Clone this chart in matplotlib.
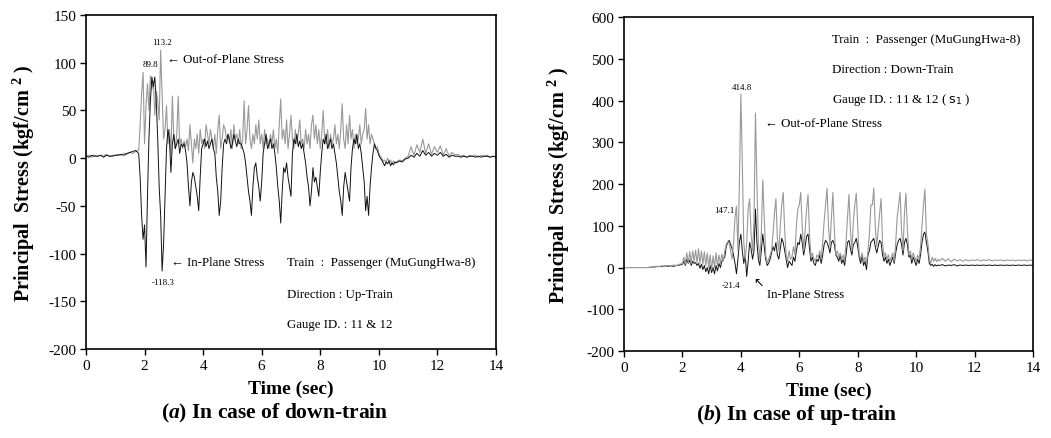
import numpy as np
import matplotlib
matplotlib.use("Agg")
import matplotlib.pyplot as plt

plt.rcParams['font.family'] = ['Liberation Serif', 'DejaVu Sans']
plt.rcParams['mathtext.fontset'] = 'custom'
plt.rcParams['mathtext.rm'] = 'Liberation Serif:bold'
plt.rcParams['mathtext.it'] = 'Liberation Serif:italic:bold'
plt.rcParams['mathtext.sf'] = 'DejaVu Sans'
plt.rcParams['axes.unicode_minus'] = False

# ---------------- (a) down-train record ----------------
time_a = np.concatenate([np.linspace(0.0, 1.7, 18),
                         np.linspace(1.8, 10.55, 176),
                         np.linspace(10.6, 14.0, 35)])

out_plane_a = [
    2, 3, 1, 3, 2, 3, 2, 4, 2, 3, 3, 4, 3, 5, 4, 6, 5, 7,
    8, 35, 68, 89.8, 15, 55, 78, 50, 86, 72,
    80, 45, 70, 60, 40, 113.2, 65, 20, 30, 55,
    15, 30, 5, 65, 20, 10, 25, 65, 15, 20,
    10, 18, 12, 20, 8, 35, 15, -5, 20, 10,
    25, 5, 30, 15, 20, 10, 35, 25, 15, 30,
    20, 10, 25, 5, 30, 45, 10, 20, 35, 30,
    20, 25, 15, 30, 10, 35, 20, 25, 15, 30,
    10, 20, 60, 15, 30, 55, 20, 10, 25, 15,
    35, 20, 40, 15, 25, 10, 30, 15, 20, 10,
    25, 15, 30, 10, 20, 5, 35, 62, 20, 30,
    15, 40, 10, 25, 45, 20, 10, 30, 15, 25,
    40, 15, 20, 10, 30, 15, 25, 10, 35, 45,
    20, 35, 15, 30, 10, 25, 50, 20, 15, 30,
    10, 25, 15, 20, 35, 15, 25, 10, 30, 57,
    20, 10, 35, 15, 45, 20, 30, 10, 25, 15,
    20, 35, 15, 25, 30, 52, 20, 35, 15, 25,
    20, 15, 10, 12, 5, 2, 0, -3, -2, -5,
    0, -4, -2, -6, -3, -5,
    -4, -2, -3, 0, 2, 12, 3, 14, 6, 20, 5, 15, 4, 12, 6, 13, 3, 10,
    2, 6, 3, 4, 2, 3, 1, 3, 2, 3, 1, 3, 2, 3, 1, 2, 2,
]

in_plane_a = [
    2, 1, 3, 2, 2, 3, 1, 3, 2, 2, 3, 3, 4, 3, 5, 6, 7, 8,
    5, -20, -60, -85, -70, -114, -40, 20, 60, 85,
    75, 85, 60, 20, -30, -60, -118.3, -90, -40, 10,
    30, 20, -15, 15, 25, 10, 15, 20, 5, 15,
    12, 15, 8, -5, -30, -50, -25, -15, -20, -30,
    -40, -55, -20, 10, 15, 20, 12, 18, 10, 15,
    20, 10, 5, -20, -35, -60, -45, -10, 15, 20,
    15, 25, 20, 10, 15, 25, 18, 12, 20, 15,
    15, 10, 5, -5, -20, -35, -45, -60, -30, -10,
    -5, -20, -30, -45, -25, 5, 15, 25, 10, 15,
    20, 10, 15, 5, -10, -30, -45, -68, -35, -10,
    -15, -5, -20, -30, -40, 5, 20, 15, 25, 12,
    18, 10, 15, 5, -5, -20, -30, -50, -35, -10,
    -25, -20, -30, -40, -15, 5, 20, 15, 25, 10,
    15, 20, 10, 15, 5, -5, -20, -35, -45, -60,
    -30, -15, -25, -35, -45, -10, 10, 20, 15, 25,
    10, 15, 5, -10, -25, -55, -40, -60, -30, -10,
    5, 15, 10, 8, 3, 0, -2, -5, -8, -4,
    -6, -3, -8, -5, -7, -4,
    -5, -3, -4, -1, 0, 3, 1, 5, 2, 8, 3, 6, 2, 5, 3, 6, 2, 4,
    1, 3, 2, 2, 1, 2, 1, 2, 2, 1, 2, 1, 2, 2, 1, 2, 1,
]

# ---------------- (b) up-train record ----------------
time_b = np.concatenate([np.linspace(0.0, 1.9, 20),
                         np.linspace(2.0, 10.75, 176),
                         np.linspace(10.8, 14.0, 33)])

out_plane_b = [
    0, 0, 0, 0, 0, 0, 0, 0, 0, 0, 1, 3, 2, 4, 3, 5, 4, 6, 5, 8,
    10, 25, 8, 35, 12, 38, 10, 40, 15, 42,
    12, 45, 10, 40, 8, 38, 5, 35, 0, 30,
    -5, 28, 0, 35, 5, 30, 10, 32, 15, 40,
    55, 62, 58, 40, 20, 60, 120, 147.1, 40, 200,
    414.8, 250, 60, 20, 60, 140, 165, 80, 40, 110,
    370, 200, 60, 20, 80, 210, 120, 30, 10, 20,
    30, 40, 80, 130, 165, 70, 40, 100, 150, 180,
    90, 30, 15, 40, 20, 25, 50, 30, 100, 140,
    150, 180, 100, 40, 90, 140, 175, 80, 25, 35,
    20, 15, 30, 25, 40, 20, 60, 110, 150, 190,
    100, 50, 120, 180, 90, 30, 40, 25, 35, 20,
    30, 15, 60, 120, 175, 90, 40, 110, 150, 178,
    100, 30, 20, 35, 15, 25, 10, 40, 80, 150,
    150, 190, 100, 50, 90, 130, 165, 60, 25, 35,
    20, 30, 15, 25, 35, 15, 60, 120, 150, 180,
    90, 40, 130, 178, 90, 30, 40, 20, 35, 25,
    15, 30, 20, 50, 100, 150, 188, 80, 60, 20,
    10, 25, 15, 22, 14, 20,
    16, 22, 15, 21, 14, 20, 16, 19, 15, 19, 16, 18, 17, 19, 16, 18, 17,
    19, 16, 18, 17, 18, 16, 18, 17, 18, 16, 18, 17, 18, 16, 18, 17,
]

in_plane_b = [
    0, 0, 0, 0, 0, 0, 0, 0, 0, 1, 1, 2, 3, 2, 4, 3, 4, 3, 5, 6,
    8, 15, 5, 20, 10, 18, 5, 15, 10, 12,
    5, 10, -2, 8, -5, 5, -10, 0, -15, 5,
    -12, 0, -15, 5, -8, 10, 0, 15, 20, 25,
    50, 60, 65, 55, 45, 30, 10, -15, 20, 60,
    80, 40, 10, 30, -21.4, 15, 60, 45, 20, 40,
    140, 60, 20, 5, 40, 80, 50, 20, 5, 10,
    20, 35, 50, 40, 60, 30, 20, 45, 70, 60,
    40, 20, 0, 15, 10, 5, 25, 15, 40, 60,
    55, 80, 60, 30, 50, 75, 80, 45, 15, 25,
    10, 5, 20, 15, 30, 10, 30, 55, 65, 60,
    50, 35, 60, 65, 55, 30, 25, 15, 30, 10,
    20, 5, 30, 60, 65, 45, 30, 55, 60, 70,
    50, 25, 10, 30, 5, 15, -5, 30, 40, 60,
    65, 70, 50, 35, 50, 65, 60, 30, 15, 25,
    10, 20, 5, 15, 25, 10, 35, 55, 65, 70,
    55, 30, 60, 70, 55, 25, 30, 10, 25, 15,
    5, 20, 10, 30, 60, 80, 85, 60, 40, 10,
    5, 8, 3, 7, 4, 6,
    5, 7, 4, 6, 5, 7, 4, 6, 5, 6, 5, 6, 5, 6, 5, 6, 5,
    6, 5, 6, 5, 6, 5, 6, 5, 6, 5, 6, 5, 6, 5, 6, 5,
]

x_ticks = [0, 2, 4, 6, 8, 10, 12, 14]
y_ticks_a = [-200, -150, -100, -50, 0, 50, 100, 150]
y_ticks_b = [-200, -100, 0, 100, 200, 300, 400, 500, 600]

GRAY = '#999999'
BLACK = '#111111'

fig = plt.figure(figsize=(10.51, 4.39), dpi=100)
ax1 = fig.add_axes([0.0818, 0.2027, 0.3901, 0.7609])
ax2 = fig.add_axes([0.5937, 0.1980, 0.3892, 0.7610])


def style_axes(ax, yticks):
    ax.set_xlim(0, 14)
    ax.set_ylim(yticks[0], yticks[-1])
    ax.set_xticks(x_ticks)
    ax.set_yticks(yticks)
    ax.tick_params(direction='out', length=4, width=1.0, labelsize=11,
                   top=False, right=False, pad=3)
    for s in ax.spines.values():
        s.set_linewidth(1.2)
    ax.set_xlabel('Time (sec)', fontsize=14, fontweight='bold')
    ax.set_ylabel(r'Principal  Stress (kgf/cm $^{2}$ )', fontsize=14.5,
                  fontweight='bold')


# (a)
ax1.plot(time_a, out_plane_a, color=GRAY, lw=0.8)
ax1.plot(time_a, in_plane_a, color=BLACK, lw=0.7)
style_axes(ax1, y_ticks_a)
ax1.yaxis.set_label_coords(-0.12, 0.5)
ax1.xaxis.set_label_coords(0.5, -0.092)

ax1.text(1.95, 98.6, '89.8', fontsize=6.5, ha='left', va='center')
ax1.text(2.25, 121.7, '113.2', fontsize=6.5, ha='left', va='center')
ax1.text(2.25, -129.8, '-118.3', fontsize=6.5, ha='left', va='center')
ax1.text(2.77, 104, '\u2190 Out-of-Plane Stress', fontsize=9.3, ha='left', va='center')
ax1.text(2.90, -109, '\u2190 In-Plane Stress', fontsize=9.3, ha='left', va='center')
ax1.text(6.86, -109, 'Train  :  Passenger (MuGungHwa-8)', fontsize=9.3, ha='left', va='center')
ax1.text(6.86, -142.5, 'Direction : Up-Train', fontsize=9.3, ha='left', va='center')
ax1.text(6.86, -174, 'Gauge ID. : 11 & 12', fontsize=9.3, ha='left', va='center')

# (b)
ax2.plot(time_b, in_plane_b, color=BLACK, lw=0.7)
ax2.plot(time_b, out_plane_b, color=GRAY, lw=0.8)
style_axes(ax2, y_ticks_b)
ax2.yaxis.set_label_coords(-0.127, 0.5)
ax2.xaxis.set_label_coords(0.5, -0.092)

ax2.text(3.70, 432, '414.8', fontsize=6.5, ha='left', va='center')
ax2.text(3.08, 138, '147.1', fontsize=6.5, ha='left', va='center')
ax2.text(3.36, -42, '-21.4', fontsize=6.5, ha='left', va='center')
ax2.text(4.83, 346, '\u2190 Out-of-Plane Stress', fontsize=9.3, ha='left', va='center')
ax2.text(4.42, -36, '\u2196', fontsize=9, ha='left', va='center')
ax2.text(4.90, -63, 'In-Plane Stress', fontsize=9.3, ha='left', va='center')
ax2.text(7.12, 547, 'Train  :  Passenger (MuGungHwa-8)', fontsize=9.3, ha='left', va='center')
ax2.text(7.12, 475, 'Direction : Down-Train', fontsize=9.3, ha='left', va='center')
ax2.text(7.12, 403, r'Gauge ID. : 11 & 12 ( $\mathsf{s}_{\mathsf{1}}$ )', fontsize=9.3,
         ha='left', va='center')

# panel captions
fig.text(275 / 1051, 1 - 413 / 439, r'($\mathit{a}$) In case of down-train',
         fontsize=15.5, fontweight='bold', ha='center', va='center')
fig.text(797 / 1051, 1 - 415 / 439, r'($\mathit{b}$) In case of up-train',
         fontsize=15.5, fontweight='bold', ha='center', va='center')

fig.savefig('out.png', dpi=100)
